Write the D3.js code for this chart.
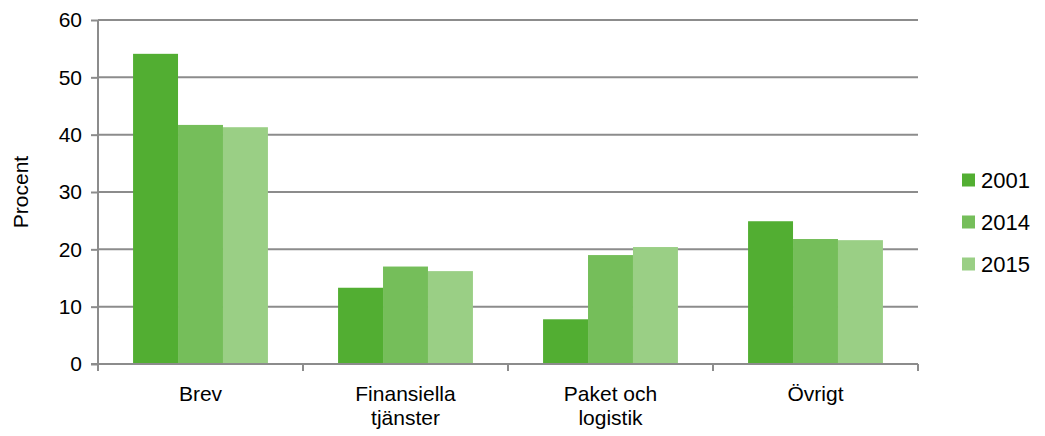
<!DOCTYPE html>
<html>
<head>
<meta charset="utf-8">
<script src="https://cdn.jsdelivr.net/npm/d3@7"></script>
<style>
  body { margin: 0; background: #fff; }
  svg { display: block; font-family: "Liberation Sans", Arial, sans-serif; }
</style>
</head>
<body>
<script>
// chart data
var categories = [["Brev"], ["Finansiella", "tjänster"], ["Paket och", "logistik"], ["Övrigt"]];
var years = ["2001", "2014", "2015"];
var v2001 = [54.1, 13.3, 7.8, 24.9];
var v2014 = [41.7, 17.0, 19.0, 21.8];
var v2015 = [41.3, 16.2, 20.4, 21.6];
var yTicks = [0, 10, 20, 30, 40, 50, 60];
var colors = ["#52ae32", "#75be5a", "#9acf85"];

var series = [v2001, v2014, v2015];

var W = 1045, H = 436;
var mLeft = 98, mRight = 918, mTop = 20, mBottom = 364;
var grid = "#8c8c8c";

var svg = d3.select("body").append("svg")
    .attr("width", W)
    .attr("height", H);

var x = d3.scaleBand()
    .domain(d3.range(categories.length))
    .range([mLeft, mRight]);

var xs = d3.scaleBand()
    .domain(d3.range(years.length))
    .range([0, x.bandwidth()])
    .paddingOuter(0.78);

var y = d3.scaleLinear()
    .domain([0, 60])
    .range([mBottom, mTop]);

// gridlines
svg.append("g")
    .selectAll("line")
    .data(yTicks.filter(function(d) { return d > 0; }))
    .enter().append("line")
    .attr("x1", mLeft).attr("x2", mRight)
    .attr("y1", function(d) { return y(d); })
    .attr("y2", function(d) { return y(d); })
    .style("stroke", grid)
    .style("stroke-width", 2);

// bars
var groups = svg.append("g")
    .selectAll("g")
    .data(series)
    .enter().append("g")
    .attr("fill", function(d, i) { return colors[i]; });

groups.each(function(vals, si) {
    d3.select(this).selectAll("rect")
        .data(vals)
        .enter().append("rect")
        .attr("x", function(d, ci) { return x(ci) + xs(si); })
        .attr("width", xs.bandwidth())
        .attr("y", function(d) { return y(d); })
        .attr("height", function(d) { return y(0) - y(d); });
});

// y axis
var yAxis = svg.append("g")
    .attr("transform", "translate(" + mLeft + ",0)")
    .call(d3.axisLeft(y).tickValues(yTicks).tickSize(7).tickPadding(9));
yAxis.select(".domain").style("stroke", grid).style("stroke-width", 2)
    .attr("d", "M0," + mTop + "V" + (mBottom + 7));
yAxis.selectAll(".tick line").style("stroke", grid).style("stroke-width", 2);
yAxis.selectAll(".tick text")
    .style("font-size", "21px")
    .style("fill", "#000")
    .style("font-family", "Liberation Sans, Arial, sans-serif");

// x axis
var xAxisG = svg.append("g");
xAxisG.append("line")
    .attr("x1", mLeft - 7).attr("x2", mRight)
    .attr("y1", mBottom).attr("y2", mBottom)
    .style("stroke", grid).style("stroke-width", 2);
xAxisG.selectAll(".xt")
    .data(d3.range(categories.length + 1))
    .enter().append("line")
    .attr("x1", function(d) { return mLeft + d * x.step(); })
    .attr("x2", function(d) { return mLeft + d * x.step(); })
    .attr("y1", mBottom).attr("y2", mBottom + 7)
    .style("stroke", grid).style("stroke-width", 2);

var labels = xAxisG.selectAll(".xl")
    .data(categories)
    .enter().append("text")
    .attr("text-anchor", "middle")
    .style("font-size", "21px")
    .attr("x", function(d, i) { return x(i) + x.bandwidth() / 2; })
    .attr("y", 401);
labels.selectAll("tspan")
    .data(function(d) { return d; })
    .enter().append("tspan")
    .attr("x", function() { return d3.select(this.parentNode).attr("x"); })
    .attr("dy", function(d, i) { return i === 0 ? 0 : 24; })
    .text(function(d) { return d; });

// y label
svg.append("text")
    .text("Procent")
    .attr("transform", "translate(28," + ((mTop + mBottom) / 2) + ") rotate(-90)")
    .attr("text-anchor", "middle")
    .style("font-size", "21px");

// legend
var legend = svg.append("g")
    .selectAll("g")
    .data(years)
    .enter().append("g")
    .attr("transform", function(d, i) { return "translate(962," + (180 + i * 42) + ")"; });
legend.append("rect")
    .attr("x", 0).attr("y", -6.5)
    .attr("width", 13).attr("height", 13)
    .attr("fill", function(d, i) { return colors[i]; });
legend.append("text")
    .attr("x", 19).attr("y", 8)
    .style("font-size", "22px")
    .text(function(d) { return d; });
</script>
</body>
</html>
